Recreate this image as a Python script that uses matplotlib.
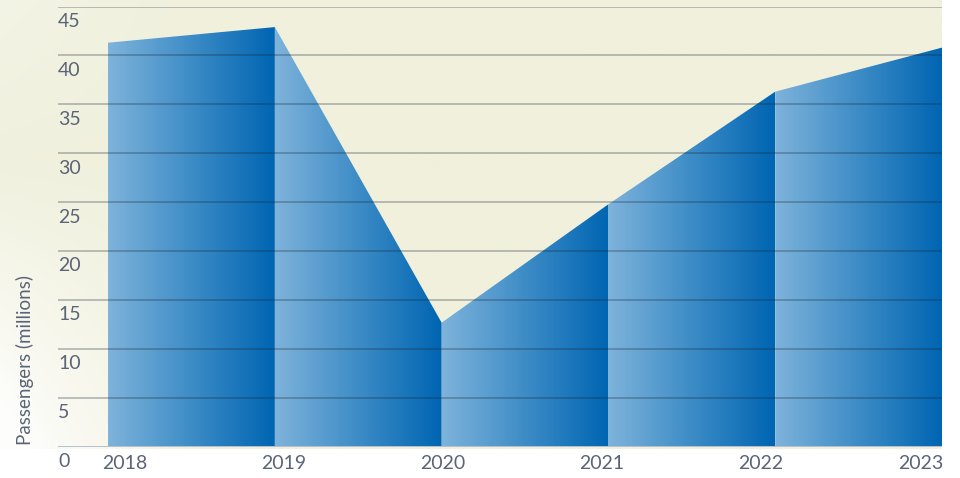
import numpy as np
import matplotlib.pyplot as plt
from matplotlib.colors import LinearSegmentedColormap

years = ["2018", "2019", "2020", "2021", "2022", "2023"]
passengers = [41.3, 42.9, 12.7, 24.8, 36.3, 40.8]
y_ticks = [0, 5, 10, 15, 20, 25, 30, 35, 40, 45]

text_color = "#5b6477"
plt.rcParams["font.family"] = ["Lato", "DejaVu Sans"]

fig = plt.figure(figsize=(9.6, 4.78), dpi=100)
fig.patch.set_facecolor("white")

# pale cream backdrop, fading to white toward the lower left
bg_ax = fig.add_axes([0, (478 - 449) / 478, 942 / 960, 449 / 478])
h, w = 200, 400
yy, xx = np.mgrid[0:1:h * 1j, 0:1:w * 1j]
cream = np.array([240, 240, 221]) / 255.0
white = np.ones(3)
fade = np.clip((1 - xx * 4.5), 0, 1) * np.clip((yy - 0.35) * 1.6, 0, 1)
fade = fade + 0.25 * np.clip(1 - xx * 5, 0, 1) * np.clip(1 - yy * 2.5, 0, 1)
fade = np.clip(fade, 0, 0.9)[..., None]
bg = cream * (1 - fade) + white * fade
bg_ax.imshow(bg, aspect="auto", extent=[0, 1, 0, 1], origin="upper")
bg_ax.axis("off")

ax = fig.add_axes([58 / 960, 31 / 478, 884 / 960, 440.5 / 478])
ax.set_xlim(-0.3, len(years) - 1)
ax.set_ylim(0, 45)
ax.patch.set_alpha(0)
ax.axis("off")

blues = LinearSegmentedColormap.from_list("seg", ["#7eb3db", "#3d8cc6", "#0065b2"])
grad = np.linspace(0, 1, 256).reshape(1, -1)

# each year-to-year span gets its own left-to-right gradient
for i in range(len(years) - 1):
    xs = [i, i + 1]
    poly = ax.fill_between(xs, [0, 0], passengers[i:i + 2], color="none", lw=0)
    path = poly.get_paths()[0]
    im = ax.imshow(grad, cmap=blues, aspect="auto", extent=[i, i + 1, 0, 45],
                   origin="lower", zorder=2)
    im.set_clip_path(path, transform=ax.transData)

for v in y_ticks[1:]:
    ax.axhline(v, color=(0.1, 0.15, 0.2, 0.28), lw=1.4, zorder=3)
ax.axhline(0, color="#b8c0cf", lw=1.4, zorder=3)

for v in y_ticks:
    ax.annotate(str(v), xy=(-0.3, v), xytext=(0, -4.5), textcoords="offset points",
                ha="left", va="top", fontsize=14, color=text_color)

label_x = np.linspace(0.1, 4.87, len(years))
for x, yr in zip(label_x, years):
    ax.annotate(yr, xy=(x, 0), xytext=(0, -6), textcoords="offset points",
                ha="center", va="top", fontsize=14, color=text_color)

fig.text(25 / 960, 33 / 478, "Passengers (millions)", rotation=90,
         ha="center", va="bottom", fontsize=13.5, color=text_color)

fig.savefig("out.png", dpi=100, facecolor=fig.get_facecolor())
